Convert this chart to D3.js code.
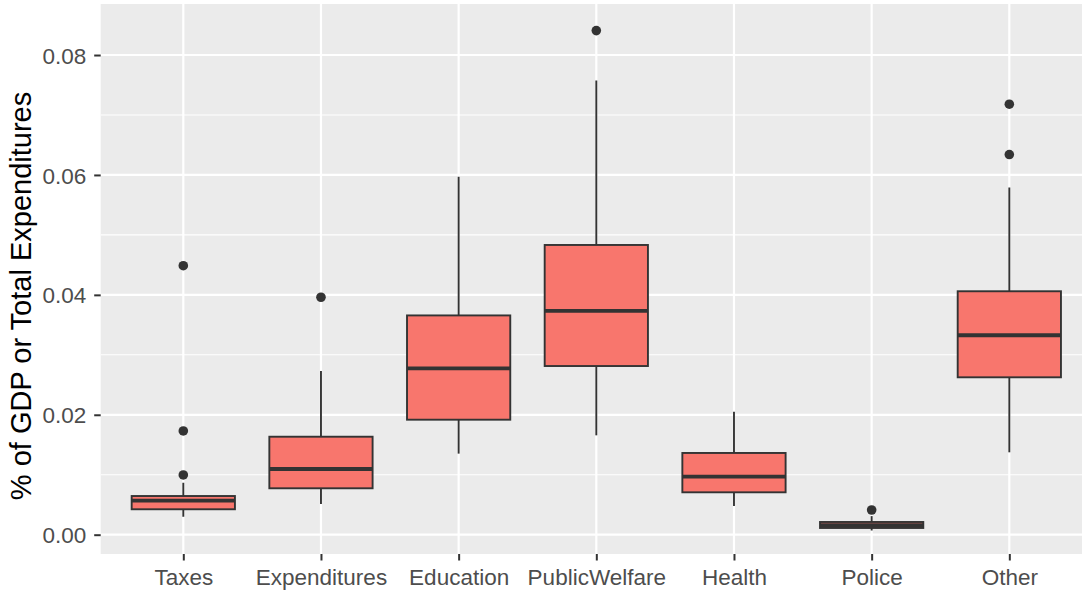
<!DOCTYPE html>
<html>
<head>
<meta charset="utf-8">
<script src="https://cdn.jsdelivr.net/npm/d3@7"></script>
<style>
  html, body { margin: 0; padding: 0; background: #ffffff; }
  svg { display: block; font-family: "Liberation Sans", Arial, sans-serif; }
</style>
</head>
<body>
<svg id="chart" width="1083" height="595"></svg>
<script>
// Categories along the x axis
const categories = ["Taxes", "Expenditures", "Education", "PublicWelfare", "Health", "Police", "Other"];

// Box-plot summary statistics per category
const whiskerLow  = [0.0030, 0.00512, 0.01352, 0.01657, 0.00479, 0.00070, 0.01374];
const q1          = [0.00424, 0.00774, 0.01918, 0.02813, 0.00707, 0.00112, 0.02625];
const median      = [0.00567, 0.01096, 0.02775, 0.03734, 0.00967, 0.00160, 0.03326];
const q3          = [0.00645, 0.01634, 0.03657, 0.04832, 0.01363, 0.00212, 0.04060];
const whiskerHigh = [0.00867, 0.0273, 0.0597, 0.07575, 0.0205, 0.0031, 0.0579];

// Outlying points per category
const outliers = [
  [0.04486, 0.0173, 0.00996],
  [0.0396],
  [],
  [0.08407],
  [],
  [0.00412],
  [0.0718, 0.0634]
];

// Axis ticks
const yMajorTicks = [0, 0.02, 0.04, 0.06, 0.08];
const yMinorTicks = [0.01, 0.03, 0.05, 0.07];
const yTickLabels = ["0.00", "0.02", "0.04", "0.06", "0.08"];
const yTitle = "% of GDP or Total Expenditures";

const panel = { left: 100.7, right: 1082, top: 4, bottom: 554 };
const unit = 137.67;

const svg = d3.select("#chart");

const x = d3.scaleLinear()
  .domain([0.4, 7.6])
  .range([panel.left, panel.left + 7.2 * unit]);

const y = d3.scaleLinear()
  .domain([-0.00322, 0.08851])
  .range([panel.bottom, panel.top]);

const boxHalf = 0.375; // box width 0.75 category units

// Panel background
svg.append("rect")
  .attr("x", panel.left).attr("y", panel.top)
  .attr("width", panel.right - panel.left)
  .attr("height", panel.bottom - panel.top)
  .attr("fill", "#EBEBEB");

const clip = svg.append("defs").append("clipPath").attr("id", "panelClip");
clip.append("rect")
  .attr("x", panel.left).attr("y", panel.top)
  .attr("width", panel.right - panel.left)
  .attr("height", panel.bottom - panel.top);

const plot = svg.append("g").attr("clip-path", "url(#panelClip)");

// Minor horizontal gridlines
plot.selectAll("line.minor")
  .data(yMinorTicks)
  .join("line")
  .attr("class", "minor")
  .attr("x1", panel.left).attr("x2", panel.right)
  .attr("y1", d => y(d)).attr("y2", d => y(d))
  .attr("stroke", "#ffffff").attr("stroke-width", 1.1);

// Major horizontal gridlines
plot.selectAll("line.major")
  .data(yMajorTicks)
  .join("line")
  .attr("class", "major")
  .attr("x1", panel.left).attr("x2", panel.right)
  .attr("y1", d => y(d)).attr("y2", d => y(d))
  .attr("stroke", "#ffffff").attr("stroke-width", 2.2);

// Vertical gridlines at each category
plot.selectAll("line.vgrid")
  .data(categories)
  .join("line")
  .attr("class", "vgrid")
  .attr("x1", (d, i) => x(i + 1)).attr("x2", (d, i) => x(i + 1))
  .attr("y1", panel.top).attr("y2", panel.bottom)
  .attr("stroke", "#ffffff").attr("stroke-width", 2.2);

// Boxes
const boxes = plot.selectAll("g.box")
  .data(categories.map((c, i) => ({
    c, i,
    lo: whiskerLow[i], q1: q1[i], med: median[i], q3: q3[i], hi: whiskerHigh[i],
    out: outliers[i]
  })))
  .join("g")
  .attr("class", "box");

const dark = "#333333";

// Whiskers
boxes.append("line")
  .attr("x1", d => x(d.i + 1)).attr("x2", d => x(d.i + 1))
  .attr("y1", d => y(d.q3)).attr("y2", d => y(d.hi))
  .attr("stroke", dark).attr("stroke-width", 1.9);
boxes.append("line")
  .attr("x1", d => x(d.i + 1)).attr("x2", d => x(d.i + 1))
  .attr("y1", d => y(d.q1)).attr("y2", d => y(d.lo))
  .attr("stroke", dark).attr("stroke-width", 1.9);

// Interquartile boxes
boxes.append("rect")
  .attr("x", d => x(d.i + 1 - boxHalf))
  .attr("width", d => x(d.i + 1 + boxHalf) - x(d.i + 1 - boxHalf))
  .attr("y", d => y(d.q3))
  .attr("height", d => y(d.q1) - y(d.q3))
  .attr("fill", "#F8766D")
  .attr("stroke", dark).attr("stroke-width", 1.9);

// Median lines
boxes.append("line")
  .attr("x1", d => x(d.i + 1 - boxHalf)).attr("x2", d => x(d.i + 1 + boxHalf))
  .attr("y1", d => y(d.med)).attr("y2", d => y(d.med))
  .attr("stroke", dark).attr("stroke-width", 3.8);

// Outliers
boxes.selectAll("circle")
  .data(d => d.out.map(v => ({ v, i: d.i })))
  .join("circle")
  .attr("cx", d => x(d.i + 1))
  .attr("cy", d => y(d.v))
  .attr("r", 4.8)
  .attr("fill", dark);

// Y axis
const yAxis = d3.axisLeft(y)
  .tickValues(yMajorTicks)
  .tickFormat((d, i) => yTickLabels[i])
  .tickSize(6.5)
  .tickPadding(8);

const yg = svg.append("g")
  .attr("transform", `translate(${panel.left},0)`)
  .call(yAxis);
yg.select(".domain").remove();
yg.selectAll(".tick line").attr("stroke", dark).attr("stroke-width", 2);
yg.selectAll(".tick text")
  .attr("fill", "#4D4D4D")
  .style("font-size", "22.5px")
  .attr("dy", "0.36em");

// X axis
const xAxis = d3.axisBottom(x)
  .tickValues(categories.map((c, i) => i + 1))
  .tickFormat(d => categories[d - 1])
  .tickSize(6.5)
  .tickPadding(9);

const xg = svg.append("g")
  .attr("transform", `translate(0,${panel.bottom})`)
  .call(xAxis);
xg.select(".domain").remove();
xg.selectAll(".tick line").attr("stroke", dark).attr("stroke-width", 2);
xg.selectAll(".tick text")
  .attr("fill", "#4D4D4D")
  .style("font-size", "22.5px");

// Y axis title
svg.append("text")
  .attr("transform", "translate(31,296) rotate(-90)")
  .attr("text-anchor", "middle")
  .attr("fill", "#000000")
  .style("font-size", "29px")
  .text(yTitle);
</script>
</body>
</html>
